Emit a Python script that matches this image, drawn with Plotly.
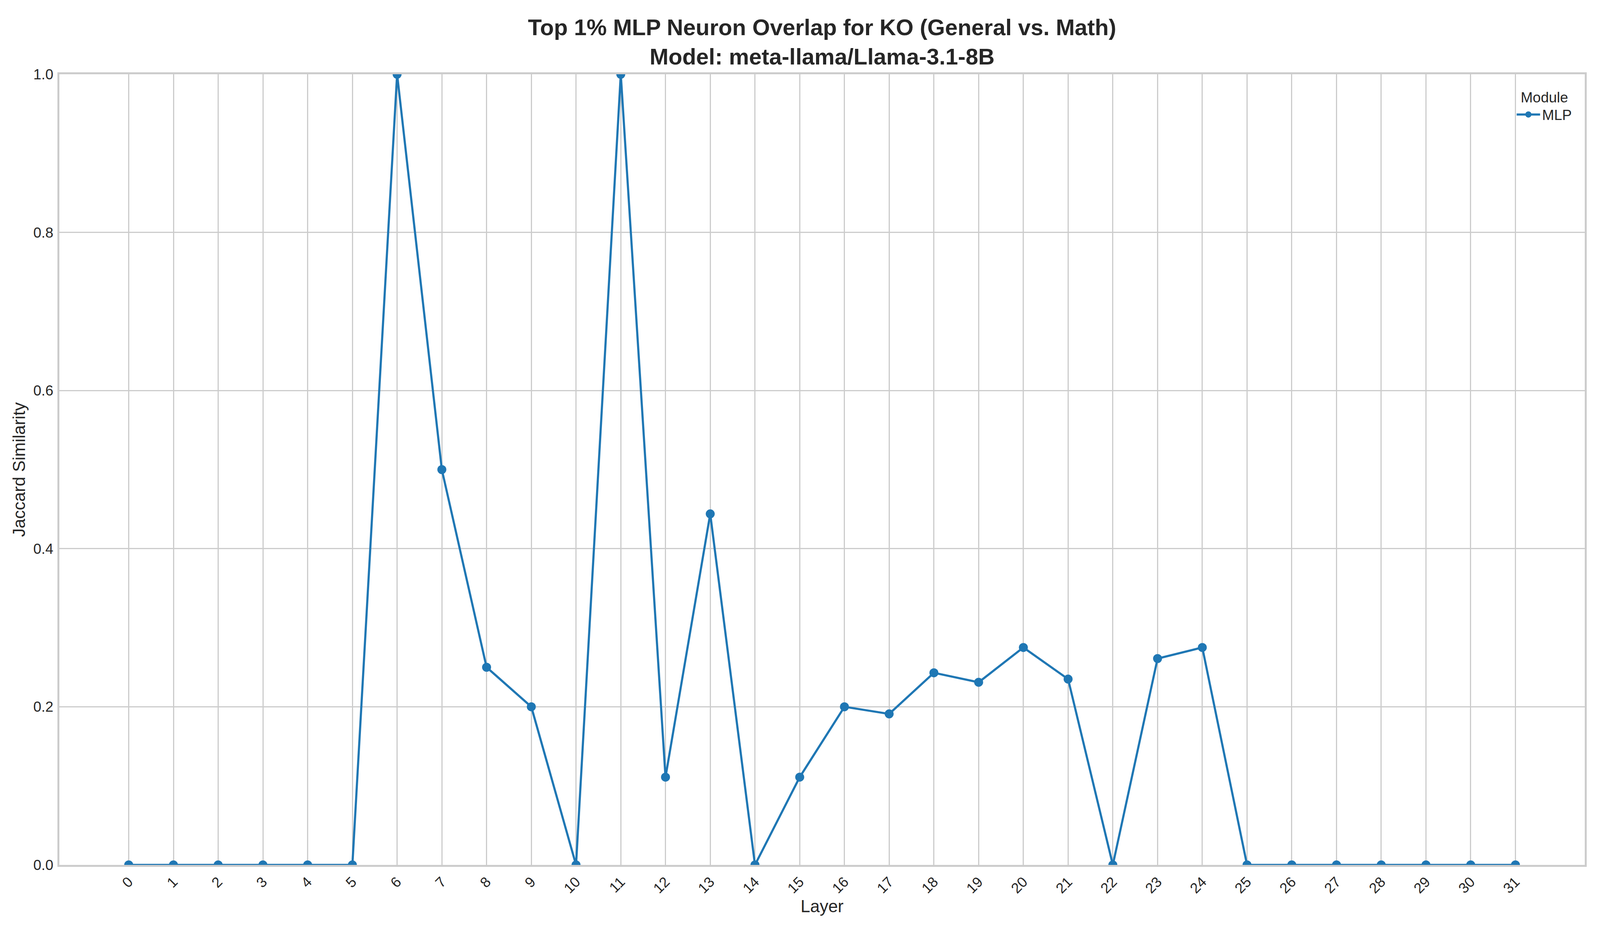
import plotly.graph_objects as go

layers = list(range(32))
layer_labels = [str(i) for i in layers]
mlp_jaccard = [0, 0, 0, 0, 0, 0, 1.0, 0.5, 0.25, 0.2, 0, 1.0, 0.111, 0.444, 0, 0.111,
               0.2, 0.191, 0.243, 0.231, 0.275, 0.235, 0, 0.261, 0.275,
               0, 0, 0, 0, 0, 0, 0]
y_ticks = [0.0, 0.2, 0.4, 0.6, 0.8, 1.0]

title_line1 = "Top 1% MLP Neuron Overlap for KO (General vs. Math)"
title_line2 = "Model: meta-llama/Llama-3.1-8B"

# The browser viewport is 4096 x 2400; fill it with the reference's proportions.
W, H = 4096, 2400
L, R, T, B = 152, 39, 190, 187
FONT = "Liberation Sans, Arial, sans-serif"
TXT = "#262626"
GRID = "#cccccc"
BLUE = "#1f77b4"

fig = go.Figure()
fig.add_trace(go.Scatter(
    x=layers, y=mlp_jaccard, mode="lines+markers", name="MLP",
    line=dict(color=BLUE, width=5.5),
    marker=dict(color=BLUE, size=23),
    cliponaxis=True,
))

fig.update_layout(
    width=W, height=H,
    margin=dict(l=L, r=R, t=T, b=B, pad=0),
    paper_bgcolor="white", plot_bgcolor="white",
    font=dict(family=FONT, color=TXT, size=37),
    title=dict(
        text=f"<b>{title_line1}<br>{title_line2}</b>",
        x=0.5 * (L + W - R) / W, xanchor="center",
        y=1 - 90 / H, yanchor="middle", yref="container",
        font=dict(family=FONT, size=58, color=TXT),
    ),
    showlegend=True,
    legend=dict(
        title=dict(text="Module", side="top center", font=dict(size=37, color=TXT)),
        x=0.993, xanchor="right", y=0.988, yanchor="top",
        bgcolor="rgba(0,0,0,0)", borderwidth=0,
        font=dict(size=37, color=TXT),
        itemwidth=60,
        tracegroupgap=0,
    ),
)

fig.update_xaxes(
    range=[-1.55, 32.55],
    tickmode="array", tickvals=layers, ticktext=layer_labels,
    tickangle=-45,
    tickfont=dict(size=37, color=TXT),
    showgrid=True, gridcolor=GRID, gridwidth=3,
    showline=True, linecolor=GRID, linewidth=5, mirror=True,
    zeroline=False, ticks="", ticklabelstandoff=2,
    title=dict(text="Layer", font=dict(size=44, color=TXT), standoff=8),
)
fig.update_yaxes(
    range=[0, 1],
    tickmode="array", tickvals=y_ticks, ticktext=[f"{v:.1f}" for v in y_ticks],
    tickfont=dict(size=37, color=TXT),
    showgrid=True, gridcolor=GRID, gridwidth=3,
    showline=True, linecolor=GRID, linewidth=5, mirror=True,
    zeroline=False, ticks="", ticklabelstandoff=3,
    title=dict(text="Jaccard Similarity", font=dict(size=44, color=TXT), standoff=8),
)

fig.write_html(
    "out.html",
    config={"displayModeBar": False},
    post_script="document.body.style.margin='0';document.body.style.overflow='hidden';",
)
